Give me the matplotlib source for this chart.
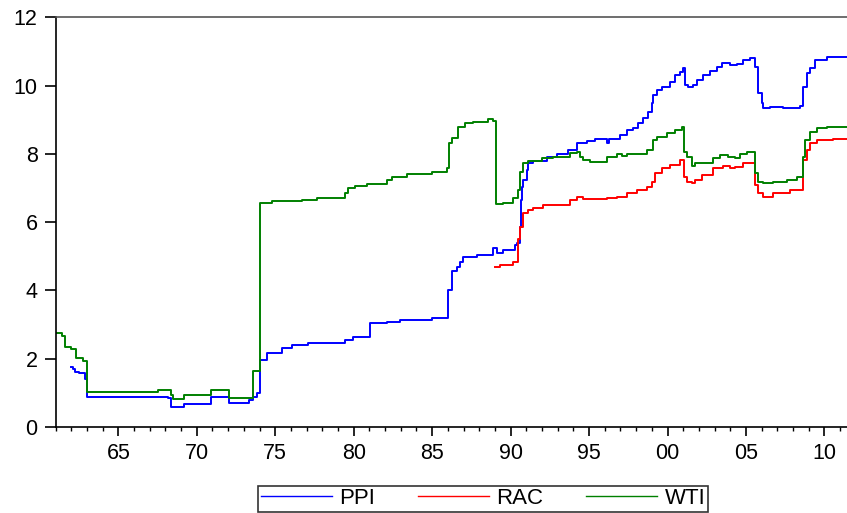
import matplotlib
matplotlib.use("Agg")
import matplotlib.pyplot as plt
from matplotlib.ticker import MultipleLocator, FuncFormatter

plt.rcParams['font.family'] = ['Liberation Sans', 'DejaVu Sans']

# ---- data (step-change points: year, value) ----
ppi_year = [1962.0, 1962.1, 1962.25, 1962.5, 1962.85, 1963.0, 1968.19, 1968.33, 1969.2,
            1970.88, 1972.07, 1973.35, 1973.6, 1973.82, 1974.03, 1974.45, 1975.41,
            1976.05, 1977.1, 1979.44, 1979.97, 1981.04, 1982.1, 1982.95, 1984.97,
            1986.03, 1986.25, 1986.57, 1986.78, 1986.99, 1987.84, 1988.9, 1989.11,
            1989.53, 1990.28, 1990.39, 1990.6, 1990.65, 1990.7, 1990.81, 1991.02,
            1991.13, 1991.45, 1992.3, 1992.94, 1993.68, 1994.21, 1994.85, 1995.38,
            1995.91, 1996.12, 1996.3, 1996.97, 1997.4, 1997.82, 1998.14, 1998.46,
            1998.78, 1998.99, 1999.1, 1999.31, 1999.63, 2000.16, 2000.48, 2000.8,
            2001.01, 2001.12, 2001.33, 2001.65, 2001.86, 2002.28, 2002.71, 2003.13,
            2003.45, 2003.98, 2004.41, 2004.83, 2005.26, 2005.58, 2005.79, 2006.0,
            2006.11, 2006.53, 2007.38, 2008.45, 2008.66, 2008.87, 2009.08, 2009.4,
            2010.14, 2011.45]
ppi_val = [1.77, 1.70, 1.62, 1.58, 1.40, 0.89, 0.85, 0.60, 0.67,
           0.89, 0.71, 0.79, 0.89, 0.99, 1.96, 2.16, 2.30,
           2.40, 2.45, 2.55, 2.64, 3.04, 3.08, 3.13, 3.18,
           4.01, 4.58, 4.70, 4.84, 4.97, 5.04, 5.23, 5.09,
           5.18, 5.33, 5.38, 5.87, 6.65, 7.04, 7.23, 7.53,
           7.72, 7.80, 7.90, 8.00, 8.11, 8.33, 8.39, 8.43,
           8.45, 8.33, 8.43, 8.55, 8.70, 8.75, 8.90, 9.04,
           9.24, 9.48, 9.72, 9.87, 9.97, 10.11, 10.31, 10.41,
           10.51, 10.02, 9.97, 10.02, 10.16, 10.31, 10.44, 10.55,
           10.65, 10.60, 10.62, 10.75, 10.80, 10.55, 9.77, 9.50,
           9.33, 9.36, 9.33, 9.40, 9.97, 10.36, 10.51, 10.75,
           10.83, 10.83]

rac_year = [1989.0, 1989.32, 1990.17, 1990.49, 1990.6, 1990.81, 1991.13, 1991.45,
            1992.09, 1993.79, 1994.21, 1994.64, 1996.12, 1996.76, 1997.4, 1998.04,
            1998.67, 1998.99, 1999.2, 1999.63, 2000.16, 2000.8, 2001.05, 2001.22,
            2001.54, 2001.75, 2002.18, 2002.92, 2003.56, 2003.98, 2004.3, 2004.83,
            2005.58, 2005.79, 2006.11, 2006.75, 2007.81, 2008.66, 2008.87, 2009.08,
            2009.51, 2010.57, 2011.45]
rac_val = [4.70, 4.75, 4.84, 5.50, 5.87, 6.26, 6.36, 6.41,
           6.50, 6.65, 6.75, 6.67, 6.70, 6.75, 6.84, 6.94,
           7.04, 7.19, 7.45, 7.58, 7.67, 7.82, 7.33, 7.19,
           7.14, 7.23, 7.38, 7.58, 7.65, 7.58, 7.62, 7.72,
           7.09, 6.84, 6.75, 6.84, 6.94, 7.82, 8.11, 8.31,
           8.41, 8.45, 8.45]

wti_year = [1961.0, 1961.4, 1961.6, 1962.0, 1962.3, 1962.77, 1963.0, 1967.55, 1968.33,
            1968.46, 1969.2, 1970.88, 1972.07, 1973.6, 1974.03, 1974.78, 1976.69,
            1977.64, 1979.45, 1979.66, 1980.09, 1980.83, 1982.1, 1982.42, 1983.38,
            1984.97, 1985.93, 1986.1, 1986.25, 1986.67, 1987.1, 1987.63, 1988.59,
            1988.85, 1989.05, 1989.54, 1990.17, 1990.49, 1990.6, 1990.81, 1991.13,
            1991.98, 1992.72, 1993.79, 1994.21, 1994.42, 1994.64, 1995.06, 1996.12,
            1996.76, 1997.08, 1997.4, 1998.67, 1999.1, 1999.31, 1999.95, 2000.48,
            2000.9, 2001.05, 2001.22, 2001.54, 2001.75, 2002.18, 2002.92, 2003.35,
            2003.88, 2004.3, 2004.62, 2005.05, 2005.58, 2005.79, 2006.11, 2006.75,
            2007.6, 2008.23, 2008.66, 2008.76, 2009.08, 2009.51, 2010.14, 2011.45]
wti_val = [2.74, 2.67, 2.35, 2.27, 2.03, 1.94, 1.03, 1.07, 0.94,
           0.81, 0.94, 1.07, 0.86, 1.64, 6.57, 6.62, 6.65,
           6.70, 6.85, 6.99, 7.06, 7.11, 7.24, 7.33, 7.41,
           7.48, 7.58, 8.31, 8.46, 8.80, 8.91, 8.94, 9.02,
           8.96, 6.53, 6.57, 6.70, 6.94, 7.48, 7.72, 7.79,
           7.87, 7.92, 8.02, 8.05, 7.92, 7.82, 7.77, 7.92,
           8.00, 7.93, 8.00, 8.11, 8.41, 8.50, 8.60, 8.70,
           8.80, 8.06, 7.92, 7.63, 7.72, 7.74, 7.87, 7.97,
           7.92, 7.87, 8.00, 8.06, 7.43, 7.19, 7.14, 7.19,
           7.23, 7.33, 7.92, 8.41, 8.65, 8.75, 8.78, 8.78]

series_names = ['PPI', 'RAC', 'WTI']
series_colors = ['#0000ff', '#ff0000', '#008000']
y_ticks = [0, 2, 4, 6, 8, 10, 12]

# ---- figure ----
W, H = 847, 513
fig = plt.figure(figsize=(W / 100, H / 100), dpi=100)
x0, x1 = 55.6, 847.0
ytop, ybot = 17.3, 427.0
ax = fig.add_axes([x0 / W, (H - ybot) / H, (x1 - x0) / W, (ybot - ytop) / H])

lines = []
for (xs, ys), name, col in zip([(ppi_year, ppi_val), (rac_year, rac_val), (wti_year, wti_val)],
                               series_names, series_colors):
    ln, = ax.plot(xs, ys, drawstyle='steps-post', color=col, lw=1.4, label=name)
    lines.append(ln)

ax.set_xlim(1961.0, 1961.0 + (x1 - x0) / 15.69)
ax.set_ylim(0, 12)
ax.set_yticks(y_ticks)
ax.xaxis.set_major_locator(MultipleLocator(5))
ax.xaxis.set_minor_locator(MultipleLocator(1))
ax.xaxis.set_major_formatter(FuncFormatter(lambda v, p: '%02d' % (int(round(v)) % 100)))

for s in ['left', 'bottom']:
    ax.spines[s].set_color('black')
    ax.spines[s].set_linewidth(1.2)
ax.spines['top'].set_color('#555555')
ax.spines['top'].set_linewidth(1.2)
ax.spines['right'].set_visible(False)

ax.tick_params(axis='x', which='major', direction='out', length=6.5, width=1.2,
               labelsize=15.5, pad=5, colors='black')
ax.tick_params(axis='x', which='minor', direction='out', length=3, width=1.0)
ax.tick_params(axis='y', which='major', direction='out', length=8, width=1.2,
               labelsize=15.5, pad=5, right=False)

leg = fig.legend(handles=lines, loc='lower center', bbox_to_anchor=(483 / W, 0.0),
                 ncol=3, frameon=True, fancybox=False, fontsize=16,
                 handlelength=3.2, handletextpad=0.35, columnspacing=1.9,
                 borderpad=0.12, borderaxespad=0.05)
leg.get_frame().set_edgecolor('black')
leg.get_frame().set_linewidth(1.2)
for l in leg.get_lines():
    l.set_linewidth(1.0)

fig.savefig('out.png', dpi=100)
